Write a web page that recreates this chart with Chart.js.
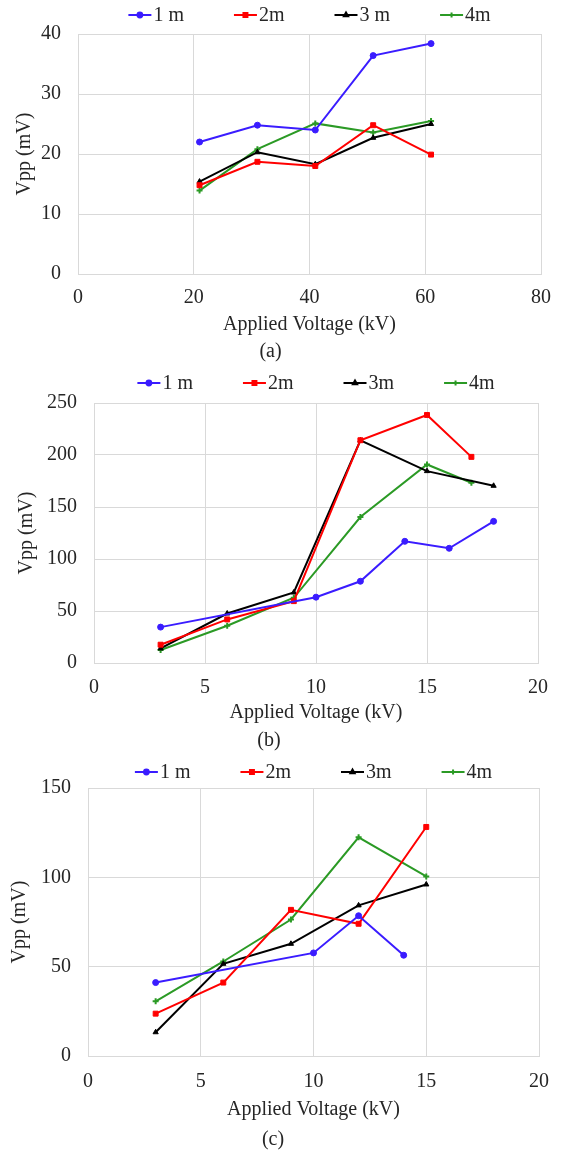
<!DOCTYPE html>
<html>
<head>
<meta charset="utf-8">
<script src="https://cdn.jsdelivr.net/npm/chart.js@4.4.1/dist/chart.umd.min.js"></script>
<style>
  body { margin: 0; background: #fff; width: 563px; height: 1155px; overflow: hidden; }
  .panel { position: absolute; left: 0; width: 563px; }
</style>
</head>
<body>
<div class="panel" style="top:0;height:365px"><canvas id="chartA" width="563" height="365"></canvas></div>
<div class="panel" style="top:365px;height:390px"><canvas id="chartB" width="563" height="390"></canvas></div>
<div class="panel" style="top:755px;height:400px"><canvas id="chartC" width="563" height="400"></canvas></div>
<script>
// series colours / names
const seriesNames = ["1 m", "2m", "3 m", "4m"];
const seriesNamesBC = ["1 m", "2m", "3m", "4m"];

// (a)
const voltA = [21, 31, 41, 51, 61];
const a1m = [22.0, 24.8, 24.0, 36.4, 38.4];
const a2m = [14.8, 18.7, 18.0, 24.8, 19.9];
const a3m = [15.4, 20.3, 18.3, 22.7, 25.0];
const a4m = [13.9, 20.8, 25.1, 23.6, 25.5];

// (b)
const voltB1 = [3, 10, 12, 14, 16, 18];
const b1m = [34.5, 63.3, 78.6, 117, 110.3, 136.2];
const voltB2 = [3, 6, 9, 12, 15, 17];
const b2m = [17.6, 41.9, 59.5, 214.2, 238.5, 198.2];
const voltB3 = [3, 6, 9, 12, 15, 18];
const b3m = [14, 47.6, 67.8, 214, 184.5, 170.4];
const voltB4 = [3, 6, 9, 12, 15, 17];
const b4m = [12.5, 35.8, 62.7, 140.3, 190.9, 173.3];

// (c)
const voltC1 = [3, 10, 12, 14];
const c1m = [41.1, 57.7, 78.5, 56.4];
const voltC = [3, 6, 9, 12, 15];
const c2m = [23.7, 41.1, 81.8, 74, 128.2];
const c3m = [13.3, 51.6, 62.8, 84.3, 96];
const c4m = [30.6, 52.9, 76.4, 122.4, 100.5];

// axis ticks
const xTicksA = [0, 80, 20];
const yTicksA = [0, 40, 10];
const xTicksB = [0, 20, 5];
const yTicksB = [0, 250, 50];
const xTicksC = [0, 20, 5];
const yTicksC = [0, 150, 50];

const colors = ["#3a1cff", "#ff0000", "#000000", "#2b9a25"];
const markers = ["circle", "rect", "triangle", "cross"];
const FONT = "'Liberation Serif', 'Times New Roman', serif";
const GRID = "#d9d9d9";
const TEXT = "#262626";

Chart.defaults.font.family = FONT;
Chart.defaults.font.size = 20;
Chart.defaults.color = TEXT;

function pts(xs, ys) {
  return xs.map((x, i) => ({ x: x, y: ys[i] }));
}

function series(i, name, xs, ys) {
  return {
    label: name,
    data: pts(xs, ys),
    borderColor: colors[i],
    backgroundColor: colors[i],
    borderWidth: 2,
    pointStyle: markers[i],
    pointRadius: i === 1 ? 3.5 : 3,
    pointBorderWidth: i === 3 ? 2 : 1,
    pointBackgroundColor: colors[i],
    pointBorderColor: colors[i],
    tension: 0,
    fill: false
  };
}

// legend drawn by hand so the spacing matches (line + marker, text, 50px gap)
const excelLegend = {
  id: "excelLegend",
  afterDraw(chart, args, opts) {
    const ctx = chart.ctx;
    const area = chart.chartArea;
    ctx.save();
    ctx.font = "20px " + FONT;
    const lineW = 23, textGap = 2, itemGap = 50;
    const items = chart.data.datasets.map(ds => ({ ds, w: ctx.measureText(ds.label).width }));
    let total = 0;
    items.forEach((it, i) => { total += lineW + textGap + it.w + (i < items.length - 1 ? itemGap : 0); });
    let x = (area.left + area.right) / 2 - total / 2;
    const y = opts.y;
    items.forEach(it => {
      ctx.strokeStyle = it.ds.borderColor;
      ctx.lineWidth = 2;
      ctx.beginPath();
      ctx.moveTo(x, y);
      ctx.lineTo(x + lineW, y);
      ctx.stroke();
      ctx.fillStyle = it.ds.borderColor;
      Chart.helpers.drawPoint(ctx, {
        pointStyle: it.ds.pointStyle,
        radius: it.ds.pointRadius * 0.8,
        borderWidth: it.ds.pointBorderWidth,
        rotation: 0
      }, x + lineW / 2, y);
      ctx.fillStyle = TEXT;
      ctx.textBaseline = "middle";
      ctx.textAlign = "left";
      ctx.fillText(it.ds.label, x + lineW + textGap, y + 1);
      x += lineW + textGap + it.w + itemGap;
    });
    ctx.restore();
  }
};

function makeChart(id, g, datasets, xt, yt, caption) {
  const H = g.H;
  const xBottom = g.titleY + 12;
  return new Chart(document.getElementById(id), {
    type: "line",
    data: { datasets: datasets },
    plugins: [excelLegend],
    options: {
      responsive: false,
      animation: false,
      devicePixelRatio: 1,
      layout: { padding: { left: 0, right: 563 - g.right, top: g.top, bottom: 0 } },
      plugins: {
        legend: { display: false },
        tooltip: { enabled: false },
        excelLegend: { y: g.legendY },
        title: {
          display: true,
          text: caption,
          position: "bottom",
          color: TEXT,
          font: { size: 20, weight: "normal", family: FONT },
          padding: { top: g.capY - 12 - xBottom, bottom: H - xBottom - 24 - (g.capY - 12 - xBottom) }
        }
      },
      scales: {
        x: {
          type: "linear",
          min: xt[0], max: xt[1],
          ticks: { stepSize: xt[2], padding: g.tickY - g.bottom - 12, color: TEXT, font: { size: 20 } },
          grid: { color: GRID, lineWidth: 1, drawTicks: false },
          border: { color: GRID, width: 1 },
          title: { display: true, text: "Applied Voltage (kV)", color: TEXT, font: { size: 20 }, padding: { top: 0, bottom: 0 } },
          afterFit(s) { s.height = xBottom - g.bottom; }
        },
        y: {
          type: "linear",
          min: yt[0], max: yt[1],
          ticks: { stepSize: yt[2], padding: 17, color: TEXT, font: { size: 20 } },
          grid: { color: GRID, lineWidth: 1, drawTicks: false },
          border: { color: GRID, width: 1 },
          title: { display: true, text: "Vpp (mV)", color: TEXT, font: { size: 20 }, padding: { top: g.yTitleX - 12, bottom: 0 } },
          afterFit(s) { s.width = g.left; }
        }
      }
    }
  });
}

makeChart("chartA",
  { H: 365, left: 78, right: 541, top: 34, bottom: 274, tickY: 298, titleY: 325, capY: 352, legendY: 15, yTitleX: 25 },
  [series(0, seriesNames[0], voltA, a1m), series(1, seriesNames[1], voltA, a2m),
   series(2, seriesNames[2], voltA, a3m), series(3, seriesNames[3], voltA, a4m)],
  xTicksA, yTicksA, "(a)");

makeChart("chartB",
  { H: 390, left: 94, right: 538, top: 38, bottom: 298, tickY: 323, titleY: 348, capY: 376, legendY: 18, yTitleX: 27 },
  [series(0, seriesNamesBC[0], voltB1, b1m), series(1, seriesNamesBC[1], voltB2, b2m),
   series(2, seriesNamesBC[2], voltB3, b3m), series(3, seriesNamesBC[3], voltB4, b4m)],
  xTicksB, yTicksB, "(b)");

makeChart("chartC",
  { H: 400, left: 88, right: 546, top: 33, bottom: 301, tickY: 327, titleY: 355, capY: 385, legendY: 17, yTitleX: 20 },
  [series(0, seriesNamesBC[0], voltC1, c1m), series(1, seriesNamesBC[1], voltC, c2m),
   series(2, seriesNamesBC[2], voltC, c3m), series(3, seriesNamesBC[3], voltC, c4m)],
  xTicksC, yTicksC, "(c)");
</script>
</body>
</html>
